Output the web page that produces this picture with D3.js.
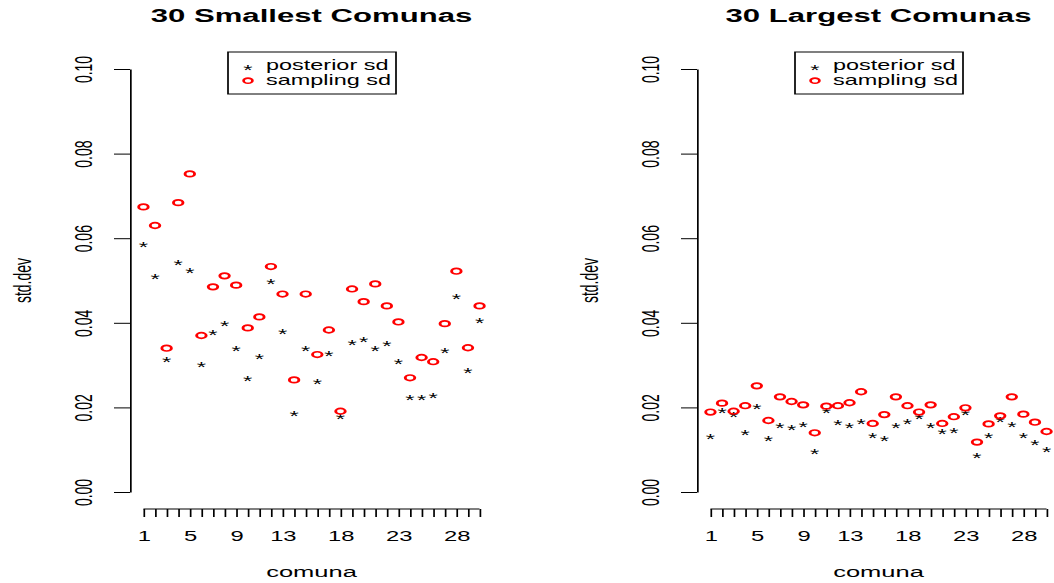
<!DOCTYPE html>
<html>
<head>
<meta charset="utf-8">
<script src="https://cdn.jsdelivr.net/npm/d3@7"></script>
<style>
  body { margin: 0; background: #fff; }
  svg { display: block; }
  text { font-family: "Liberation Sans", Arial, Helvetica, sans-serif; }
</style>
</head>
<body>
<div id="chart"></div>
<script>
// comuna index 1..30
var comunas = d3.range(1, 31);

// 30 smallest comunas
var smallPosterior = [0.0586, 0.0510, 0.0315, 0.0545, 0.0526, 0.0304, 0.0378, 0.0399, 0.0340, 0.0271,
                      0.0321, 0.0500, 0.0382, 0.0188, 0.0342, 0.0262, 0.0330, 0.0179, 0.0355, 0.0361,
                      0.0340, 0.0352, 0.0311, 0.0226, 0.0226, 0.0229, 0.0335, 0.0463, 0.0288, 0.0406];
var smallSampling = [0.0674, 0.0630, 0.0340, 0.0684, 0.0752, 0.0370, 0.0485, 0.0511, 0.0489, 0.0388,
                     0.0414, 0.0533, 0.0468, 0.0265, 0.0468, 0.0325, 0.0383, 0.0191, 0.0480, 0.0450,
                     0.0492, 0.0440, 0.0402, 0.0270, 0.0318, 0.0308, 0.0398, 0.0522, 0.0341, 0.0440];

// 30 largest comunas
var largePosterior = [0.0133, 0.0195, 0.0184, 0.0143, 0.0203, 0.0128, 0.0160, 0.0154, 0.0161, 0.0098,
                      0.0195, 0.0167, 0.0158, 0.0169, 0.0136, 0.0128, 0.0158, 0.0169, 0.0180, 0.0158,
                      0.0144, 0.0148, 0.0190, 0.0087, 0.0136, 0.0173, 0.0161, 0.0136, 0.0118, 0.0103];
var largeSampling = [0.0189, 0.0210, 0.0191, 0.0204, 0.0251, 0.0169, 0.0225, 0.0214, 0.0206, 0.0140,
                     0.0203, 0.0204, 0.0211, 0.0237, 0.0162, 0.0183, 0.0225, 0.0204, 0.0189, 0.0206,
                     0.0162, 0.0178, 0.0199, 0.0118, 0.0161, 0.0180, 0.0225, 0.0184, 0.0165, 0.0143];

var yTicks = [0, 0.02, 0.04, 0.06, 0.08, 0.10];
var xLabels = [1, 5, 9, 13, 18, 23, 28];
var legendLabels = ["posterior sd", "sampling sd"];

// the original picture is stretched horizontally
var sx = 1.7;
var width = 1054, height = 583;
var vw = width / sx;

var svg = d3.select("#chart").append("svg")
    .attr("width", width)
    .attr("height", height)
    .attr("viewBox", "0 0 " + vw + " " + height)
    .attr("preserveAspectRatio", "none");

function star(g, cx, cy) {
  g.append("text")
    .attr("x", cx)
    .attr("y", cy + 8.2)
    .attr("text-anchor", "middle")
    .attr("font-size", 14)
    .attr("fill", "black")
    .text("*");
}

function drawPanel(left, title, posterior, sampling) {
  // plot region in reference pixels: left..left+363, 52..509
  var x = d3.scaleLinear()
      .domain([1 - 0.04 * 29, 30 + 0.04 * 29])
      .range([left / sx, (left + 363) / sx]);
  var y = d3.scaleLinear()
      .domain([0, 0.1])
      .range([492, 69]);
  var cx = (left + 181.5) / sx;

  var g = svg.append("g");

  // y axis
  var yAxis = g.append("g")
      .attr("transform", "translate(" + (left / sx) + ",0)")
      .call(d3.axisLeft(y).tickValues(yTicks).tickSize(16 / sx).tickSizeOuter(0)
            .tickFormat(d3.format(".2f")));
  yAxis.select(".domain").attr("stroke", "black");
  yAxis.selectAll(".tick line").attr("stroke", "black");
  yAxis.selectAll(".tick text")
      .attr("transform", "rotate(-90)")
      .attr("x", 0)
      .attr("y", -38 / sx)
      .attr("dy", 0)
      .attr("text-anchor", "middle")
      .attr("font-size", 14)
      .attr("fill", "black");

  // x axis
  var xAxis = g.append("g")
      .attr("transform", "translate(0,509)")
      .call(d3.axisBottom(x).tickValues(comunas).tickSize(8).tickPadding(14)
            .tickFormat(function(d) { return xLabels.indexOf(d) >= 0 ? d : ""; }));
  xAxis.select(".domain").remove();
  xAxis.append("line")
      .attr("x1", x(1)).attr("x2", x(30))
      .attr("stroke", "black");
  xAxis.selectAll(".tick line").attr("stroke", "black");
  xAxis.selectAll(".tick text")
      .attr("font-size", 14)
      .attr("fill", "black");

  // title and axis labels
  g.append("text")
    .attr("x", cx).attr("y", 22.5)
    .attr("text-anchor", "middle")
    .attr("font-size", 18.3)
    .attr("font-weight", "bold")
    .text(title);
  g.append("text")
    .attr("x", cx).attr("y", 577)
    .attr("text-anchor", "middle")
    .attr("font-size", 15)
    .text("comuna");
  g.append("text")
    .attr("transform", "translate(" + ((left - 107) / sx) + ",280.5) rotate(-90)")
    .attr("dy", "0.35em")
    .attr("text-anchor", "middle")
    .attr("font-size", 14)
    .text("std.dev");

  // points
  comunas.forEach(function(c, i) {
    star(g, x(c), y(posterior[i]));
  });
  g.selectAll("circle.samp")
    .data(sampling)
    .enter()
    .append("circle")
    .attr("class", "samp")
    .attr("cx", function(d, i) { return x(comunas[i]); })
    .attr("cy", function(d) { return y(d); })
    .attr("r", 2.8)
    .attr("fill", "none")
    .attr("stroke", "red")
    .attr("stroke-width", 1.7);

  // legend
  var lx = left + 98;
  var leg = g.append("g");
  leg.append("rect")
    .attr("x", lx / sx).attr("y", 52)
    .attr("width", 168 / sx).attr("height", 42)
    .attr("fill", "white")
    .attr("stroke", "black");
  star(leg, (lx + 20) / sx, 66.5);
  leg.append("circle")
    .attr("cx", (lx + 20) / sx).attr("cy", 80.7)
    .attr("r", 2.6)
    .attr("fill", "none")
    .attr("stroke", "red")
    .attr("stroke-width", 1.6);
  leg.selectAll("text.lab")
    .data(legendLabels)
    .enter()
    .append("text")
    .attr("class", "lab")
    .attr("x", (lx + 38) / sx)
    .attr("y", function(d, i) { return 70.5 + i * 14.2; })
    .attr("font-size", 13.8)
    .text(function(d) { return d; });
}

drawPanel(130, "30 Smallest Comunas", smallPosterior, smallSampling);
drawPanel(697, "30 Largest Comunas", largePosterior, largeSampling);
</script>
</body>
</html>
